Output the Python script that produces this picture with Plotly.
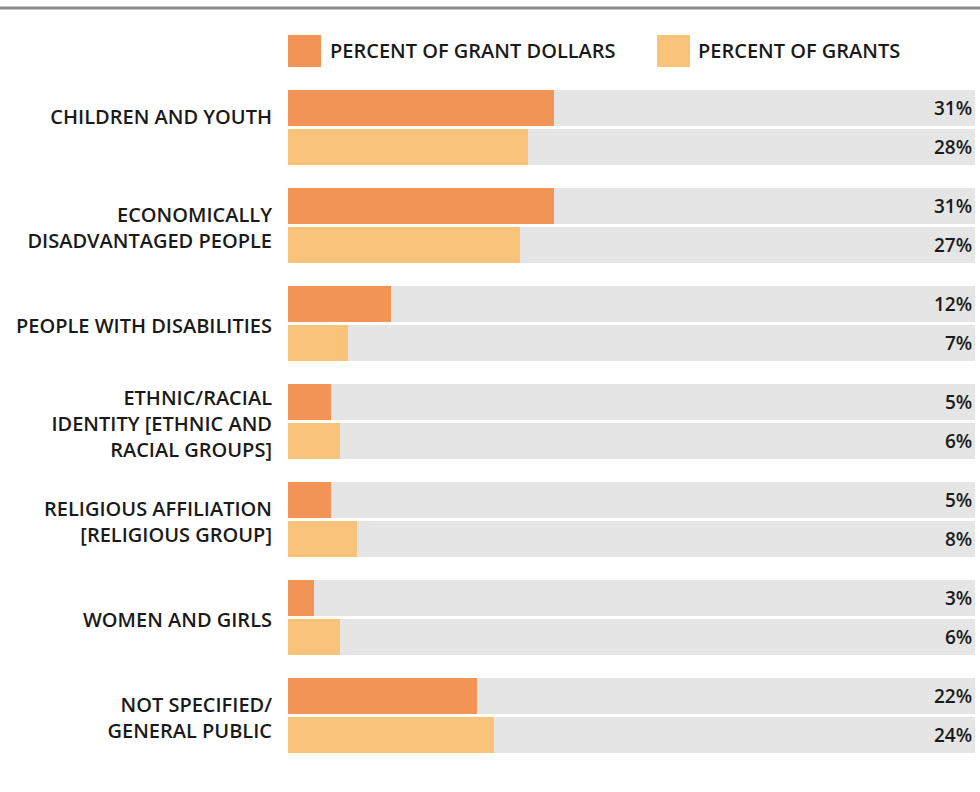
import plotly.graph_objects as go

categories = [
    "CHILDREN AND YOUTH<br> ",
    "ECONOMICALLY<br>DISADVANTAGED PEOPLE",
    "PEOPLE WITH DISABILITIES",
    "ETHNIC/RACIAL<br>IDENTITY [ETHNIC AND<br>RACIAL GROUPS]",
    "RELIGIOUS AFFILIATION<br>[RELIGIOUS GROUP]",
    "WOMEN AND GIRLS",
    "NOT SPECIFIED/<br>GENERAL PUBLIC",
]
pct_dollars = [31, 31, 12, 5, 5, 3, 22]
pct_grants = [28, 27, 7, 6, 8, 6, 24]
scale_max = 80
series_names = ["PERCENT OF GRANT DOLLARS", "PERCENT OF GRANTS"]

C_DOLLARS = "#F29455"
C_GRANTS = "#F9C37A"
C_BG = "#E5E5E5"
FONT = "Open Sans"
TXT = "#1a1a1a"
FS_LAB = 20
FS_PCT = 19

W, H = 980, 792
L, R, T, B = 288, 5, 90, 39
pw = W - L - R
ph = H - T - B

pitch, bh, gap = 98, 36, 3
n = len(categories)
y_d = [i * pitch + bh / 2 for i in range(n)]
y_g = [i * pitch + bh + gap + bh / 2 for i in range(n)]
y_c = [i * pitch + bh + gap / 2 + 2 for i in range(n)]

fig = go.Figure()
fig.add_trace(go.Bar(y=y_d + y_g, x=[scale_max] * (2 * n), orientation="h",
                     width=bh, marker=dict(color=C_BG, line=dict(width=0)),
                     showlegend=False, hoverinfo="skip"))
fig.add_trace(go.Bar(y=y_d, x=pct_dollars, orientation="h", width=bh,
                     marker=dict(color=C_DOLLARS, line=dict(width=0)),
                     name=series_names[0], showlegend=False))
fig.add_trace(go.Bar(y=y_g, x=pct_grants, orientation="h", width=bh,
                     marker=dict(color=C_GRANTS, line=dict(width=0)),
                     name=series_names[1], showlegend=False))

annotations = []
for yy, v in list(zip(y_d, pct_dollars)) + list(zip(y_g, pct_grants)):
    annotations.append(dict(x=scale_max, y=yy, xref="x", yref="y", text=f"{v}%",
                            showarrow=False, xanchor="right", yanchor="middle",
                            xshift=-1,
                            font=dict(family=FONT, size=FS_PCT, color=TXT, weight=600)))

def px_x(p):
    return (p - L) / pw
def px_y(p):
    return 1 - (p - T) / ph

shapes = [
    dict(type="line", xref="paper", yref="paper", x0=px_x(0), x1=px_x(W),
         y0=px_y(8), y1=px_y(8), line=dict(color="#8c8c8c", width=3)),
    dict(type="rect", xref="paper", yref="paper", x0=px_x(288), x1=px_x(321),
         y0=px_y(67), y1=px_y(35), fillcolor=C_DOLLARS, line=dict(width=0)),
    dict(type="rect", xref="paper", yref="paper", x0=px_x(657), x1=px_x(690),
         y0=px_y(67), y1=px_y(35), fillcolor=C_GRANTS, line=dict(width=0)),
]
annotations += [
    dict(x=px_x(328), y=px_y(51), xref="paper", yref="paper", text=series_names[0],
         showarrow=False, xanchor="left", yanchor="middle",
         font=dict(family=FONT, size=FS_LAB, color=TXT, weight=600)),
    dict(x=px_x(696), y=px_y(51), xref="paper", yref="paper", text=series_names[1],
         showarrow=False, xanchor="left", yanchor="middle",
         font=dict(family=FONT, size=FS_LAB, color=TXT, weight=600)),
]

fig.update_layout(
    width=W, height=H,
    margin=dict(l=L, r=R, t=T, b=B),
    paper_bgcolor="white", plot_bgcolor="white",
    barmode="overlay",
    bargap=0,
    xaxis=dict(range=[0, scale_max], visible=False, fixedrange=True),
    yaxis=dict(range=[ph, 0], tickmode="array", tickvals=y_c, ticktext=categories,
               showgrid=False, zeroline=False, showline=False,
               ticks="outside", ticklen=11, tickcolor="rgba(0,0,0,0)",
               tickfont=dict(family=FONT, size=FS_LAB, color=TXT, weight=600)),
    shapes=shapes,
    annotations=annotations,
    showlegend=False,
)

fig.write_html("out.html", post_script="document.body.style.margin='0';",
               config={"displayModeBar": False})
